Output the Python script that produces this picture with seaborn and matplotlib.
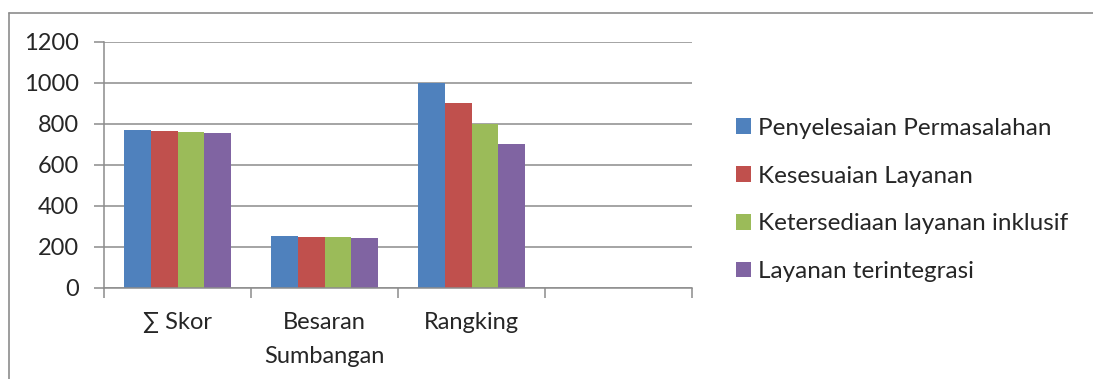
import matplotlib
matplotlib.use("Agg")
import matplotlib.pyplot as plt
from matplotlib.lines import Line2D
from matplotlib.patches import Patch
import seaborn as sns
import pandas as pd

categories = ["\u2211 Skor", "Besaran\nSumbangan", "Rangking", ""]
series_names = [
    "Penyelesaian Permasalahan",
    "Kesesuaian Layanan",
    "Ketersediaan layanan inklusif",
    "Layanan terintegrasi",
]
penyelesaian = [771, 252]
kesesuaian = [767, 250]
ketersediaan = [761, 247]
terintegrasi = [754, 246]
rangking = [1000, 900, 800, 700]
y_ticks = [0, 200, 400, 600, 800, 1000, 1200]
colors = ["#4F81BD", "#C0504D", "#9BBB59", "#8064A2"]

rows = []
for name, vals, rk in zip(series_names,
                          [penyelesaian, kesesuaian, ketersediaan, terintegrasi],
                          rangking):
    rows.append((categories[0], name, vals[0]))
    rows.append((categories[1], name, vals[1]))
    rows.append((categories[2], name, rk))
df = pd.DataFrame(rows, columns=["kategori", "seri", "nilai"])

sns.set_style("white")
plt.rcParams["font.family"] = ["Lato", "DejaVu Sans"]
FS = 17

fig = plt.figure(figsize=(10.93, 3.79), dpi=100)
ax = fig.add_axes([104 / 1093, 1 - 288 / 379, 588 / 1093, 246 / 379])

sns.barplot(data=df, x="kategori", y="nilai", hue="seri", order=categories,
            hue_order=series_names, palette=colors, width=0.73,
            linewidth=0, saturation=1, ax=ax, legend=False)

grid_color = "#8C8C8C"
ax.set_ylim(0, 1200)
ax.set_yticks(y_ticks)
ax.set_yticklabels([str(v) for v in y_ticks], fontsize=FS)
ax.yaxis.grid(True, color=grid_color, linewidth=1.1)
ax.set_axisbelow(True)
ax.tick_params(axis="y", length=7, width=1.1, color=grid_color, pad=11, left=True)

ax.set_xlim(-0.5, 3.5)
ax.set_xticks([-0.5, 0.5, 1.5, 2.5, 3.5])
ax.set_xticklabels([])
ax.set_xticks([0, 1, 2, 3], minor=True)
ax.set_xticklabels(categories, minor=True, fontsize=FS, linespacing=1.8)
ax.tick_params(axis="x", which="major", length=7, width=1.1, color=grid_color,
               bottom=True, direction="out")
ax.tick_params(axis="x", which="minor", length=0, pad=17)
ax.set_xlabel("")
ax.set_ylabel("")

for side in ["top", "right"]:
    ax.spines[side].set_visible(False)
ax.spines["left"].set_color(grid_color)
ax.spines["left"].set_linewidth(1.1)
ax.spines["bottom"].set_color(grid_color)
ax.spines["bottom"].set_linewidth(1.1)

handles = [Patch(facecolor=c, edgecolor="none") for c in colors]
fig.legend(handles, series_names, loc="center left",
           bbox_to_anchor=(736 / 1093, 1 - 200 / 379), frameon=False,
           fontsize=17.5, handlelength=0.62, handleheight=0.62,
           handletextpad=0.3, labelspacing=1.1, borderpad=0,
           borderaxespad=0)

# outer chart frame
fig.add_artist(Line2D([9 / 1093, 1.0], [1 - 12.5 / 379, 1 - 12.5 / 379],
                      transform=fig.transFigure, color="#8C8C8C", linewidth=1.2))
fig.add_artist(Line2D([9 / 1093, 9 / 1093], [0, 1 - 12.5 / 379],
                      transform=fig.transFigure, color="#8C8C8C", linewidth=1.2))

fig.savefig("out.png", dpi=100)
